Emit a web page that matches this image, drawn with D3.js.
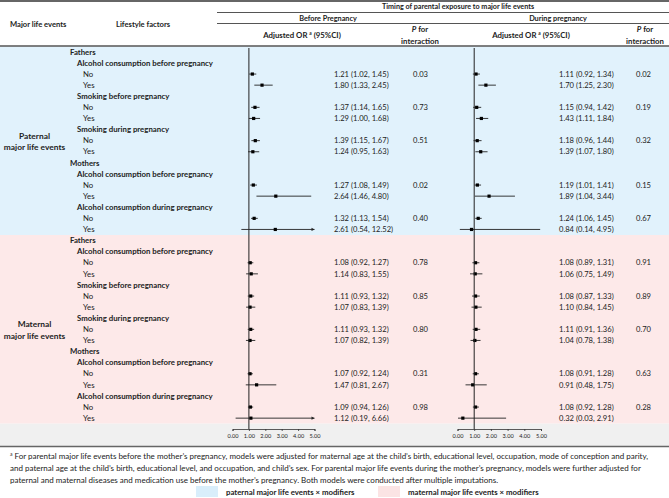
<html>
<head>
<script src="https://d3js.org/d3.v7.min.js"></script>
<style>
  body { margin: 0; background: #fff; }
  text { font-family: Lato, 'Open Sans', sans-serif; fill: #222; }
  .b { font-weight: bold; }
</style>
</head>
<body>
<div id="chart"></div>
<script>
// ---- data ----
var sections = ["Paternal", "Maternal"];
var parents = ["Fathers", "Mothers"];
var factors = ["Alcohol consumption before pregnancy", "Smoking before pregnancy", "Smoking during pregnancy",
               "Alcohol consumption before pregnancy", "Alcohol consumption during pregnancy"];
var factorParent = [0, 0, 0, 1, 1];
var levels = ["No", "Yes"];

// [OR, lower, upper] for No / Yes of every factor
var patBefore = [[1.21,1.02,1.45],[1.80,1.33,2.45],[1.37,1.14,1.65],[1.29,1.00,1.68],[1.39,1.15,1.67],
                 [1.24,0.95,1.63],[1.27,1.08,1.49],[2.64,1.46,4.80],[1.32,1.13,1.54],[2.61,0.54,12.52]];
var patDuring = [[1.11,0.92,1.34],[1.70,1.25,2.30],[1.15,0.94,1.42],[1.43,1.11,1.84],[1.18,0.96,1.44],
                 [1.39,1.07,1.80],[1.19,1.01,1.41],[1.89,1.04,3.44],[1.24,1.06,1.45],[0.84,0.14,4.95]];
var matBefore = [[1.08,0.92,1.27],[1.14,0.83,1.55],[1.11,0.93,1.32],[1.07,0.83,1.39],[1.11,0.93,1.32],
                 [1.07,0.82,1.39],[1.07,0.92,1.24],[1.47,0.81,2.67],[1.09,0.94,1.26],[1.12,0.19,6.66]];
var matDuring = [[1.08,0.89,1.31],[1.06,0.75,1.49],[1.08,0.87,1.33],[1.10,0.84,1.45],[1.11,0.91,1.36],
                 [1.04,0.78,1.38],[1.08,0.91,1.28],[0.91,0.48,1.75],[1.08,0.92,1.28],[0.32,0.03,2.91]];
var patBeforeP = [0.03, 0.73, 0.51, 0.02, 0.40];
var patDuringP = [0.02, 0.19, 0.32, 0.15, 0.67];
var matBeforeP = [0.78, 0.85, 0.80, 0.31, 0.98];
var matDuringP = [0.91, 0.89, 0.70, 0.63, 0.28];
var axisTicks = [0, 1, 2, 3, 4, 5];

var est = [[patBefore, patDuring], [matBefore, matDuring]];
var pval = [[patBeforeP, patDuringP], [matBeforeP, matDuringP]];

var W = 669, H = 498;
var svg = d3.select("#chart").append("svg").attr("width", W).attr("height", H);

var bodyTop = 46.3, rowH = 11.1, secH = 17 * rowH;
var bgCol = ["#e1f2fc", "#fde9e9"];
var fmt = d3.format(".2f");

// scales: one per timing
var xS = [d3.scaleLinear().domain([0, 5]).range([232.5, 314.5]),
          d3.scaleLinear().domain([0, 5]).range([457.5, 541])];
var valX = [334, 559], pX = [413, 636];

// backgrounds
sections.forEach(function(s, si) {
  svg.append("rect").attr("x", 0).attr("y", bodyTop + si * secH).attr("width", W).attr("height", secH)
    .attr("fill", bgCol[si]);
});
var axisTop = bodyTop + 2 * secH;
svg.append("rect").attr("x", 0).attr("y", axisTop).attr("width", W).attr("height", 446.5 - axisTop).attr("fill", "#f0f0f0");

// header rules
svg.append("line").attr("x1", 0).attr("x2", W).attr("y1", 1).attr("y2", 1).attr("stroke", "#666").attr("stroke-width", 2);
svg.append("line").attr("x1", 217).attr("x2", W).attr("y1", 12.5).attr("y2", 12.5).attr("stroke", "#555").attr("stroke-width", 1);
svg.append("line").attr("x1", 217).attr("x2", W).attr("y1", 23.5).attr("y2", 23.5).attr("stroke", "#555").attr("stroke-width", 1);
svg.append("line").attr("x1", 0).attr("x2", W).attr("y1", 46).attr("y2", 46).attr("stroke", "#555").attr("stroke-width", 1.5);
svg.append("line").attr("x1", 0).attr("x2", W).attr("y1", 446.5).attr("y2", 446.5).attr("stroke", "#666").attr("stroke-width", 1.5);

// header text
function htxt(x, y, t, anchor, size) {
  return svg.append("text").attr("class", "b").attr("x", x).attr("y", y).attr("dy", "0.35em")
    .attr("text-anchor", anchor || "middle").attr("font-size", size || 7.4).text(t);
}
htxt(10, 24.5, "Major life events", "start", 7.6);
htxt(116, 24.5, "Lifestyle factors", "start", 7.6);
htxt(458, 6.5, "Timing of parental exposure to major life events", "middle", 7.2);
htxt(328, 18, "Before Pregnancy", "middle", 7.3);
htxt(558, 18, "During pregnancy", "middle", 7.3);
[302, 531].forEach(function(cx) {
  var t = htxt(cx, 35, "Adjusted OR ", "middle", 7.8);
  t.append("tspan").attr("font-size", 4.8).attr("dy", -3).text("a");
  t.append("tspan").attr("dy", 3).text(" (95%CI)");
});
[420, 645].forEach(function(cx) {
  var t = htxt(cx, 29.5, "", "middle", 7.8);
  t.append("tspan").attr("font-style", "italic").text("P");
  t.append("tspan").text(" for");
  htxt(cx, 41.5, "interaction", "middle", 7.8);
});

// body rows
sections.forEach(function(s, si) {
  var y0 = bodyTop + si * secH;
  var rowY = function(i) { return y0 + (i + 0.5) * rowH; };
  var lab = svg.append("text").attr("class", "b").attr("text-anchor", "middle").attr("font-size", 8.4)
    .attr("x", 34.5).attr("y", y0 + secH / 2);
  lab.append("tspan").attr("x", 34.5).attr("dy", "-0.25em").text(s);
  lab.append("tspan").attr("x", 34.5).attr("dy", "1.35em").text("major life events");

  var r = 0;
  factors.forEach(function(f, fi) {
    if (fi === 0 || factorParent[fi] !== factorParent[fi - 1]) {
      svg.append("text").attr("class", "b").attr("x", 70).attr("y", rowY(r)).attr("dy", "0.35em")
        .attr("font-size", 7.8).text(parents[factorParent[fi]]);
      r++;
    }
    svg.append("text").attr("class", "b").attr("x", 77).attr("y", rowY(r)).attr("dy", "0.35em")
      .attr("font-size", 7.8).text(f);
    r++;
    levels.forEach(function(lv, li) {
      var y = rowY(r);
      svg.append("text").attr("x", 83).attr("y", y).attr("dy", "0.35em").attr("font-size", 7.8).text(lv);
      [0, 1].forEach(function(ti) {
        var d = est[si][ti][fi * 2 + li], x = xS[ti];
        svg.append("text").attr("x", valX[ti]).attr("y", y).attr("dy", "0.35em").attr("font-size", 7.6)
          .text(fmt(d[0]) + " (" + fmt(d[1]) + ", " + fmt(d[2]) + ")");
        if (li === 0) {
          svg.append("text").attr("x", pX[ti]).attr("y", y).attr("dy", "0.35em").attr("font-size", 7.6)
            .text(fmt(pval[si][ti][fi]));
        }
        var hi = Math.min(d[2], 5);
        svg.append("line").attr("x1", x(Math.max(d[1], 0))).attr("x2", x(hi)).attr("y1", y).attr("y2", y)
          .attr("stroke", "#222").attr("stroke-width", 0.9);
        if (d[2] > 5) {
          svg.append("path").attr("d", "M" + x(5) + "," + y + "l-3,-1.6l0,3.2z").attr("fill", "#222");
        }
        svg.append("rect").attr("x", x(d[0]) - 1.6).attr("y", y - 1.6).attr("width", 3.2).attr("height", 3.2)
          .attr("fill", "#000");
      });
      r++;
    });
  });
});

// reference lines and axes
var axisY = 429;
xS.forEach(function(x) {
  svg.append("line").attr("x1", x(1)).attr("x2", x(1)).attr("y1", 48).attr("y2", axisY)
    .attr("stroke", "#222").attr("stroke-width", 1);
  var g = svg.append("g").attr("transform", "translate(0," + axisY + ")")
    .call(d3.axisBottom(x).tickValues(axisTicks).tickFormat(fmt).tickSize(2).tickPadding(3));
  g.select(".domain").attr("stroke", "#333").attr("stroke-width", 0.8);
  g.selectAll(".tick line").attr("stroke", "#333").attr("stroke-width", 0.8);
  g.selectAll(".tick text").attr("font-family", "Lato, sans-serif").attr("font-size", 5.6).attr("fill", "#222");
});

// footnote
var notes = [
  " For parental major life events before the mother\u2019s pregnancy, models were adjusted for maternal age at the child\u2019s birth, educational level, occupation, mode of conception and parity,",
  "and paternal age at the child\u2019s birth, educational level, and occupation, and child\u2019s sex. For parental major life events during the mother\u2019s pregnancy, models were further adjusted for",
  "paternal and maternal diseases and medication use before the mother\u2019s pregnancy. Both models were conducted after multiple imputations."
];
notes.forEach(function(n, i) {
  var t = svg.append("text").attr("x", 10).attr("y", 456 + i * 12 + 2.8).attr("font-size", 8);
  if (i === 0) {
    t.append("tspan").attr("font-size", 5).attr("dy", -3).text("a");
    t.append("tspan").attr("dy", 3).text(n);
  } else {
    t.text(n);
  }
});

// legend
var legend = [["paternal major life events \u00d7 modifiers", "#d9eefb", 196], ["maternal major life events \u00d7 modifiers", "#fbe4e4", 378]];
legend.forEach(function(l) {
  svg.append("rect").attr("x", l[2]).attr("y", 486).attr("width", 22).attr("height", 11).attr("fill", l[1]);
  svg.append("text").attr("class", "b").attr("x", l[2] + 30).attr("y", 492).attr("dy", "0.35em")
    .attr("font-size", 7.8).text(l[0]);
});
</script>
</body>
</html>
